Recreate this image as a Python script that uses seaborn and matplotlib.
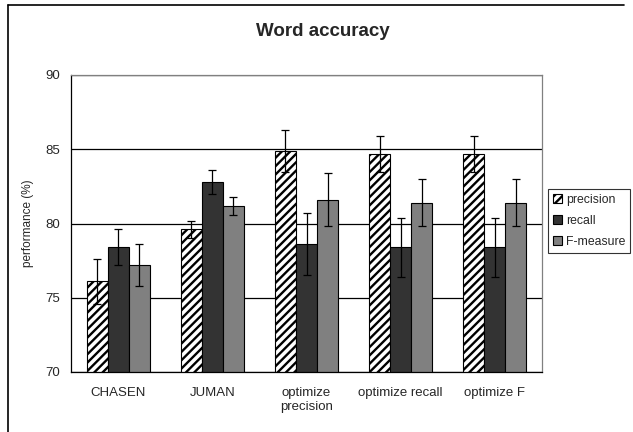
import numpy as np
import pandas as pd
import matplotlib
matplotlib.use("Agg")
import matplotlib.pyplot as plt
from matplotlib.patches import Patch
from matplotlib.lines import Line2D
import seaborn as sns

# values
systems = ["CHASEN", "JUMAN", "optimize\nprecision", "optimize recall", "optimize F"]
metrics = ["precision", "recall", "F-measure"]
precision = [76.1, 79.6, 84.9, 84.7, 84.7]
recall = [78.4, 82.8, 78.6, 78.4, 78.4]
fmeasure = [77.2, 81.2, 81.6, 81.4, 81.4]
precision_err = [1.5, 0.6, 1.4, 1.2, 1.2]
recall_err = [1.2, 0.8, 2.1, 2.0, 2.0]
fmeasure_err = [1.4, 0.6, 1.8, 1.6, 1.6]

colors = {"precision": "white", "recall": "#333333", "F-measure": "#808080"}

sns.set_style("white")
plt.rcParams["font.family"] = ["Liberation Sans", "DejaVu Sans"]
plt.rcParams["hatch.linewidth"] = 1.7

df = pd.DataFrame({
    "system": systems * 3,
    "metric": np.repeat(metrics, len(systems)),
    "value": precision + recall + fmeasure,
})
errs = [precision_err, recall_err, fmeasure_err]

fig = plt.figure(figsize=(6.33, 4.32), dpi=100)
ax = fig.add_axes([71 / 633, 1 - 372 / 432, 471 / 633, 297 / 432])

sns.barplot(data=df, x="system", y="value", hue="metric", order=systems,
            hue_order=metrics, palette=colors, saturation=1, width=0.67,
            edgecolor="black", linewidth=0.8, errorbar=None, legend=False, ax=ax)

for bar in ax.containers[0]:
    bar.set_hatch("////")

# error bars at the bar centres
for cont, err in zip(ax.containers, errs):
    xs = [b.get_x() + b.get_width() / 2 for b in cont]
    ys = [b.get_height() for b in cont]
    ax.errorbar(xs, ys, yerr=err, fmt="none", ecolor="black", elinewidth=0.9,
                capsize=3, capthick=0.9, zorder=5)

ax.set_ylim(70, 90)
ax.set_xlim(-0.5, 4.5)
ax.set_yticks([70, 75, 80, 85, 90])
ax.yaxis.grid(True, color="black", lw=0.9)
ax.set_axisbelow(True)
ax.set_xticks(np.arange(-0.5, 5, 1), minor=True)
ax.tick_params(axis="x", which="major", length=0, pad=11, labelsize=9.5)
ax.tick_params(axis="x", which="minor", length=5, width=0.9, direction="out", color="black")
ax.tick_params(axis="y", length=5, width=0.9, direction="out", color="black", labelsize=9.5, pad=3)
ax.set_xlabel("")
ax.set_ylabel("performance (%)", fontsize=8.5, labelpad=8)

for side in ["left", "bottom"]:
    ax.spines[side].set_color("black")
    ax.spines[side].set_linewidth(0.9)
for side in ["top", "right"]:
    ax.spines[side].set_color("#808080")
    ax.spines[side].set_linewidth(0.9)

handles = [Patch(facecolor=colors[m], edgecolor="black", lw=0.8,
                 hatch="////" if m == "precision" else None) for m in metrics]
leg = fig.legend(handles, metrics, loc="upper left", bbox_to_anchor=(548 / 633, 1 - 189 / 432),
                 fontsize=8.8, frameon=True, fancybox=False, handlelength=0.75,
                 handleheight=0.75, handletextpad=0.3, labelspacing=0.75,
                 borderpad=0.4, borderaxespad=0)
leg.get_frame().set_edgecolor("black")
leg.get_frame().set_linewidth(0.8)

fig.text(323 / 633, 1 - 31 / 432, "Word accuracy", ha="center", va="center",
         fontsize=13.5, fontweight="bold")

# chart border (left and top only are visible)
fig.add_artist(Line2D([8 / 633, 8 / 633], [0, 1 - 5 / 432], color="black", lw=1.2))
fig.add_artist(Line2D([8 / 633, 624 / 633], [1 - 5 / 432, 1 - 5 / 432], color="black", lw=1.2))

fig.savefig("out.png", dpi=100)
